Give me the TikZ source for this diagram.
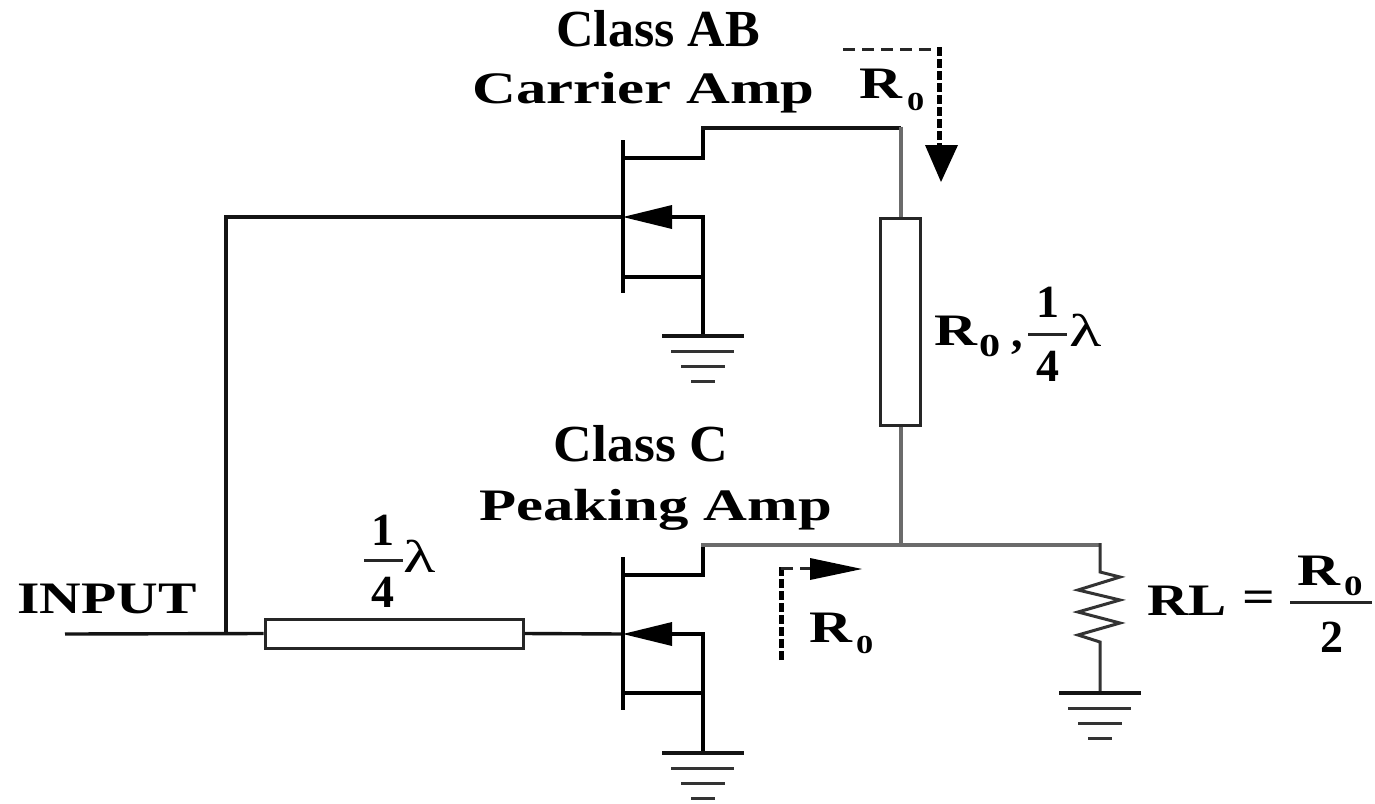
\documentclass[tikz,border=0pt]{standalone}
\usepackage{fontspec}
\setmainfont{Liberation Serif}
\usetikzlibrary{arrows.meta}
\newcommand{\Rsub}[3]{R\kern#1pt\raisebox{#2pt}{\fontsize{#3}{#3}\selectfont 0}}
\begin{document}
\begin{tikzpicture}[x=1pt,y=-1pt,
 wire/.style={line width=3.4pt,black!92,line cap=butt,line join=miter},
 fet/.style={line width=4.6pt,black,line cap=butt,line join=miter},
 gwire/.style={line width=4pt,black!58},
 thin wire/.style={line width=3pt,black!80,line join=miter},
 box/.style={draw=black!85,line width=3pt,fill=white,inner sep=0,minimum width=#1},
 lab/.style={inner sep=0,anchor=base west,font=\bfseries\fontsize{45}{45}\selectfont},
 big/.style={inner sep=0,font=\bfseries\fontsize{52}{52}\selectfont},
 num/.style={inner sep=0,font=\bfseries\fontsize{46}{46}\selectfont},
 lam/.style={inner sep=0,xscale=1.45,font=\fontsize{46}{46}\selectfont},
 bar/.style={line width=3pt,black!85},
 dshH/.style={line width=3pt,black!85,dash pattern=on 12pt off 7pt},
 dshV/.style={line width=5pt,black,dash pattern=on 9pt off 3pt},
 tip/.style={fill=black},
 gnd/.pic={
  \draw[wire] (-41,0) -- (41,0);
  \draw[thin wire] (-32,15) -- (31,15);
  \draw[thin wire] (-22,30) -- (22,30);
  \draw[thin wire] (-12,45) -- (12,45);
 }]
\useasboundingbox (0,0) rectangle (1375,803);
\fill[white] (0,0) rectangle (1375,803);
% named points
\coordinate (inL) at (65,634);
\coordinate (jn) at (226,634);
\coordinate (gA) at (623,217);
\coordinate (gC) at (623,634);
\coordinate (top) at (901,128);
\coordinate (mid) at (901,545);
\coordinate (rt) at (1100,545);
\node[box=40pt,minimum height=207pt] (tlA) at (900,321.5) {};
\node[box=258pt,minimum height=29pt] (tlB) at (394,633.5) {};
% carrier
\draw[wire] (jn) -- (226,217) -- (gA);
\draw[fet] (623,140) -- (623,293);
\draw[fet] (623,158) -- (703,158) -- (703,128);
\draw[wire] (703,129.7) -- (703,128) -- (top);
\draw[fet] (623,277) -- (703,277);
\draw[fet] (660,217) -- (703,217) -- (703,336);
\fill[tip] (623,217) -- (672,205) -- (672,229) -- cycle;
\draw[gwire] (901,126.5) -- (tlA.north -| top);
\draw[gwire] (tlA.south -| top) -- (901,547);
\pic at (703,336) {gnd};
% peaking
\draw[wire] (inL) -- (tlB.west);
\draw[wire] (tlB.east) -- (gC);
\draw[fet] (623,557) -- (623,710);
\draw[fet] (623,575) -- (703,575) -- (703,545);
\draw[gwire] (701,545) -- (rt);
\draw[fet] (623,693) -- (703,693);
\draw[fet] (660,634) -- (703,634) -- (703,753);
\fill[tip] (623,634) -- (672,622) -- (672,646) -- cycle;
\pic at (703,753) {gnd};
% load
\draw[thin wire] (rt) ++(0,-2) -- (1100,572) -- (1120,577) -- (1078,590) -- (1120,600) -- (1078,612) -- (1120,623) -- (1078,635) -- (1100,642) -- (1100,693);
\pic at (1100,693) {gnd};
% dashed indicators
\draw[dshH] (843,49) -- (940,49);
\draw[dshV] (939,47) -- (939,146);
\fill[tip] (925,145) -- (958,145) -- (941,182) -- cycle;
\draw[dshV] (781,660) -- (781,566);
\draw[dshH] (781,568) -- (812,568);
\fill[tip] (810,558) -- (862,569) -- (810,580) -- cycle;
% text
\node[big] (t1) at (658,29) {Class AB};
\node[big,xscale=1.03] (t2) at (641,444) {Class C};
\node[lab,xscale=1.35] (t3) at (472,103) {Carrier Amp};
\node[lab,xscale=1.35] (t4) at (479,520) {Peaking Amp};
\node[lab,xscale=1.28] (t5) at (17,613) {INPUT};
\node[lab,xscale=1.32] (r1) at (859,98) {\Rsub{3.8}{-12}{26}};
\node[lab,xscale=1.32] (r2) at (809,642) {\Rsub{3}{-11}{26}};
\node[lab,xscale=1.32] (r3) at (934,345) {\Rsub{1.5}{-11}{32}};
\node[num] (c1) at (1017,348) {,};
\node[num] (n1) at (1048,302) {1};
\draw[bar] (1028,334) -- (1067,334);
\node[num] (n2) at (1048,366) {4};
\node[lam] (l1) at (1086,330) {λ};
\node[num] (n3) at (383,530) {1};
\draw[bar] (364,560) -- (403,560);
\node[num] (n4) at (383,592) {4};
\node[lam] (l2) at (420,556) {λ};
\node[lab,xscale=1.27] (rl) at (1147,615) {RL};
\node[inner sep=0,xscale=1.25,font=\bfseries\fontsize{46}{46}\selectfont] (eq) at (1259,602) {=};
\node[lab,xscale=1.32] (r4) at (1297,585) {\Rsub{3}{-10}{28}};
\draw[bar] (1290,602) -- (1372,602);
\node[num] (n5) at (1332,637) {2};
\end{tikzpicture}
\end{document}
